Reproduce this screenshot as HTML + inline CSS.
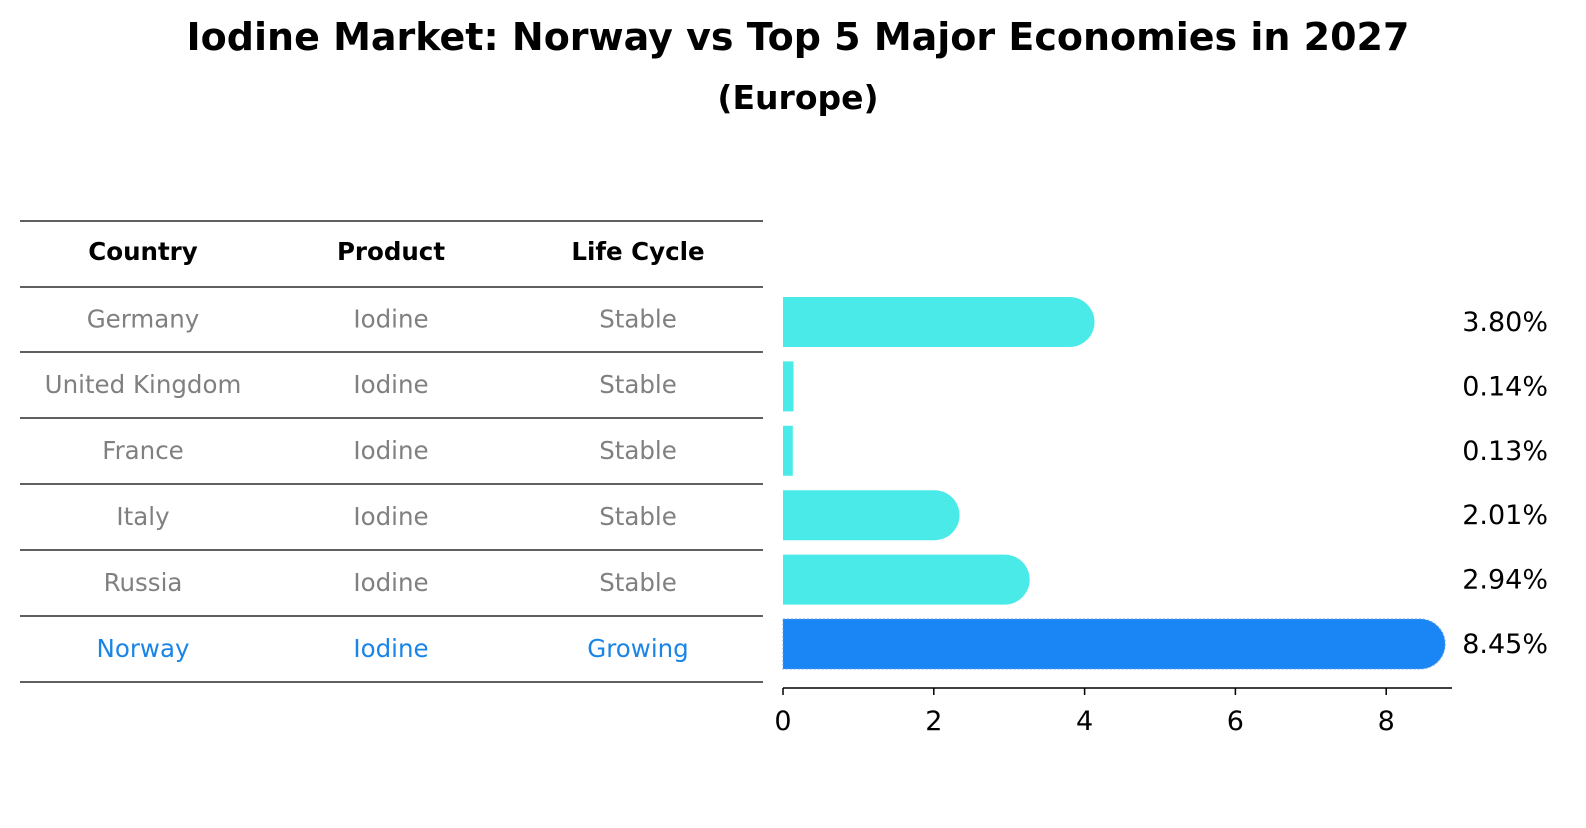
<!DOCTYPE html>
<html><head><meta charset="utf-8"><style>
body{margin:0;width:1586px;height:823px;background:#fff;font-family:"Liberation Sans","DejaVu Sans",sans-serif;overflow:hidden}
</style></head><body>
<svg width="1586" height="823" font-family="DejaVu Sans, Liberation Sans, sans-serif">
<text x="798" y="50" text-anchor="middle" font-size="38" font-weight="bold">Iodine Market: Norway vs Top 5 Major Economies in 2027</text>
<text x="798" y="109" text-anchor="middle" font-size="33" font-weight="bold">(Europe)</text>
<g id="table"></g>
<g id="bars"></g>
</svg>
<script>
const countries=["Germany","United Kingdom","France","Italy","Russia","Norway"];
const products=["Iodine","Iodine","Iodine","Iodine","Iodine","Iodine"];
const lifeCycles=["Stable","Stable","Stable","Stable","Stable","Growing"];
const values=[3.80,0.14,0.13,2.01,2.94,8.45];
const valueLabels=["3.80%","0.14%","0.13%","2.01%","2.94%","8.45%"];
const xTicks=[0,2,4,6,8];
const NS="http://www.w3.org/2000/svg";
function mk(t,a,p){const e=document.createElementNS(NS,t);for(const k in a)e.setAttribute(k,a[k]);p.appendChild(e);return e;}
const tbl=document.getElementById('table');
const lineYs=[221,287,352,418,484,550,616,682];
lineYs.forEach((y,i)=>{const l=mk('line',{x1:20,x2:763,y1:y,y2:y,stroke:'#000','stroke-width':1.2},tbl);

});
const colX=[143,391,638];
["Country","Product","Life Cycle"].forEach((h,i)=>{const t=mk('text',{x:colX[i],y:260,'text-anchor':'middle','font-size':24.5,'font-weight':'bold'},tbl);t.textContent=h;

});
countries.forEach((c,r)=>{const y=(lineYs[r+1]+lineYs[r+2])/2+8;const col=r===countries.length-1?'#1a85e6':'#808080';
[c,products[r],lifeCycles[r]].forEach((v,i)=>{const t=mk('text',{x:colX[i],y:y,'text-anchor':'middle','font-size':24.5,fill:col},tbl);t.textContent=v;

});});
const g=document.getElementById('bars');
const x0=783,ppu=75.4;const X=v=>x0+v*ppu;
const rowY=r=>322+r*64.4;const bh=50,R=25;
values.forEach((v,r)=>{const last=r===values.length-1;const col=last?'#1a85f5':'#4aeae8';const y=rowY(r)-bh/2;const w=X(v)-x0;
let d;if(w>2*R){d=`M${x0},${y}H${X(v)}A${R},${R} 0 0 1 ${X(v)},${y+bh}H${x0}Z`;}else{d=`M${x0},${y}H${X(v)}V${y+bh}H${x0}Z`;}
const a={d:d,fill:col};if(last){a.stroke='#5aa0e8';a['stroke-width']=1;a['stroke-dasharray']='2,2';}
const p=mk('path',a,g);


const t=mk('text',{x:1548,y:rowY(r)+9,'text-anchor':'end','font-size':27},g);t.textContent=valueLabels[r];

});
const ax=mk('line',{x1:x0,x2:1452,y1:688,y2:688,stroke:'#000','stroke-width':1.5},g);


xTicks.forEach(v=>{const l=mk('line',{x1:X(v),x2:X(v),y1:688,y2:695,stroke:'#000','stroke-width':1.5},g);


const t=mk('text',{x:X(v),y:730,'text-anchor':'middle','font-size':27},g);t.textContent=v;

});
</script>
</body></html>
